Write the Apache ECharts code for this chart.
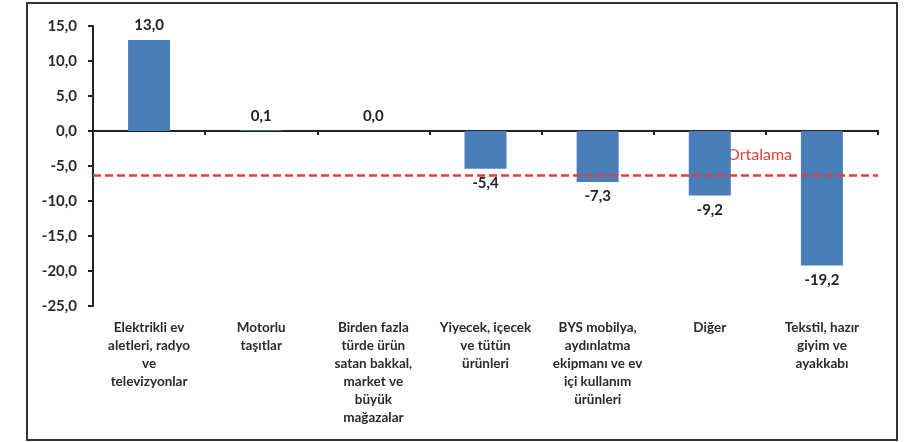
<!DOCTYPE html>
<html><head><meta charset="utf-8">
<script src="https://cdn.jsdelivr.net/npm/echarts@6/dist/echarts.min.js"></script>
<style>html,body{margin:0;padding:0;background:#fff}#c{width:918px;height:442px}</style>
</head><body><div id="c"></div>
<script>
const categories = [
  "Elektrikli ev\naletleri, radyo\nve\ntelevizyonlar",
  "Motorlu\ntaşıtlar",
  "Birden fazla\ntürde ürün\nsatan bakkal,\nmarket ve\nbüyük\nmağazalar",
  "Yiyecek, içecek\nve tütün\nürünleri",
  "BYS mobilya,\naydınlatma\nekipmanı ve ev\niçi kullanım\nürünleri",
  "Diğer",
  "Tekstil, hazır\ngiyim ve\nayakkabı"
];
const values = [13.0, 0.1, 0.0, -5.4, -7.3, -9.2, -19.2];
const averageValue = -6.3;
const averageLabel = "Ortalama";
const yMin = -25, yMax = 15, yStep = 5;

const fmt = v => v.toFixed(1).replace('.', ',');
const FONT = 'Lato, "Open Sans", sans-serif';

const chart = echarts.init(document.getElementById('c'));
chart.setOption({
  animation: false,
  backgroundColor: '#fff',
  grid: { left: 93, right: 40, top: 26, bottom: 136, containLabel: false },
  xAxis: [
    {
      type: 'category', data: categories, position: 'bottom',
      axisLine: { show: false, onZero: false }, axisTick: { show: false },
      axisLabel: { interval: 0, fontFamily: FONT, fontWeight: 'bold', fontSize: 13.5, color: '#2a2a2a', lineHeight: 18, margin: 13 }
    },
    {
      type: 'category', data: categories, position: 'top',
      axisLine: { show: true, onZero: true, lineStyle: { color: '#222', width: 2 } },
      axisTick: { show: true, inside: true, length: 4, lineStyle: { color: '#222', width: 2 } },
      axisLabel: { show: false }, splitLine: { show: false }
    }
  ],
  yAxis: {
    type: 'value', min: yMin, max: yMax, interval: yStep,
    axisLine: { show: true, lineStyle: { color: '#222', width: 2 } },
    axisTick: { show: true, length: 5, lineStyle: { color: '#222', width: 2 } },
    splitLine: { show: false },
    axisLabel: { formatter: v => fmt(v), fontFamily: FONT, fontWeight: 'bold', fontSize: 15, color: '#2a2a2a', margin: 16 }
  },
  series: [{
    type: 'bar', xAxisIndex: 0,
    data: values.map(v => ({ value: v, label: { position: v < 0 ? 'bottom' : 'top' } })),
    barWidth: 42,
    itemStyle: { color: '#4A7EBB' },
    label: { show: true, formatter: p => fmt(p.value), fontFamily: FONT, fontWeight: 'bold', fontSize: 15, color: '#222', distance: 7 },
    markLine: {
      silent: true, symbol: 'none',
      data: [{ yAxis: averageValue }],
      lineStyle: { color: '#E0403A', type: [8, 4], width: 2.5 },
      label: { show: false }
    }
  }],
  graphic: [
    { type: 'rect', shape: { x: 27, y: 3, width: 870, height: 437 }, style: { fill: 'none', stroke: '#333', lineWidth: 2 }, silent: true },
    { type: 'text', left: 727, top: 147, style: { text: averageLabel, fill: '#E0403A', font: '16px ' + FONT } }
  ]
});
</script></body></html>
